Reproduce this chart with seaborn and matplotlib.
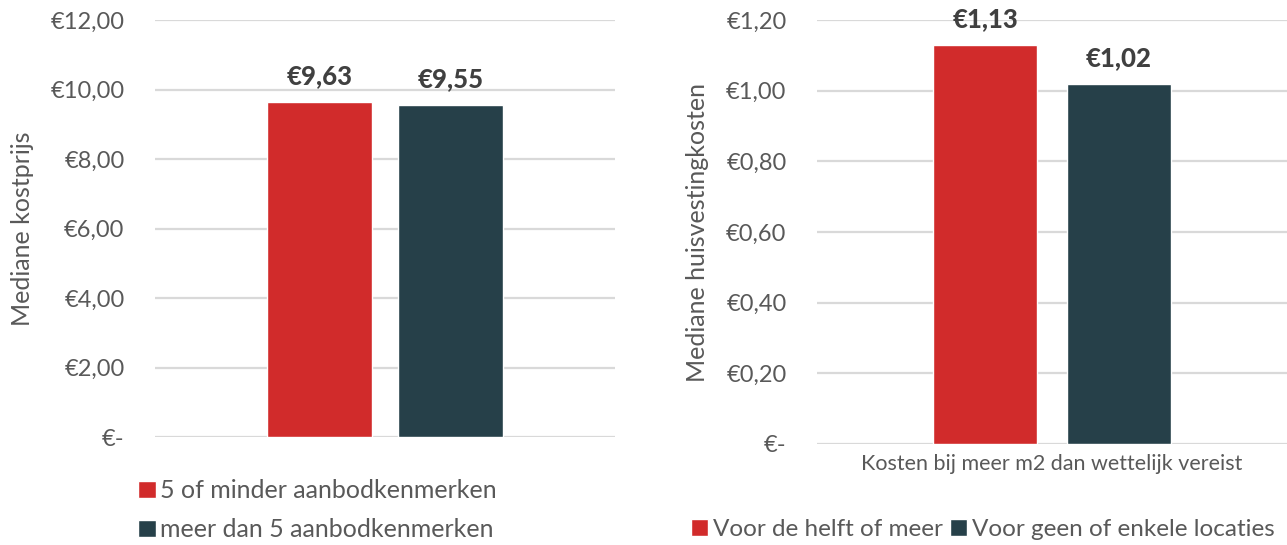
import matplotlib
matplotlib.use("Agg")
import matplotlib.pyplot as plt
from matplotlib.ticker import FuncFormatter, MultipleLocator
import pandas as pd
import seaborn as sns

# %% data
left_series = ["5 of minder aanbodkenmerken", "meer dan 5 aanbodkenmerken"]
left_values = [9.63, 9.55]
left_ylabel = "Mediane kostprijs"

right_category = "Kosten bij meer m2 dan wettelijk vereist"
right_series = ["Voor de helft of meer", "Voor geen of enkele locaties"]
right_values = [1.13, 1.02]
right_ylabel = "Mediane huisvestingkosten"

RED = "#D12B2B"
DARK = "#264049"
GREY = "#595959"
GRID = "#D9D9D9"

sns.set_theme(style="white")
plt.rcParams["font.family"] = ["Lato", "DejaVu Sans"]
plt.rcParams["text.color"] = GREY


def euro(v, pos=None):
    if abs(v) < 1e-9:
        return "€-"
    return "€" + f"{v:.2f}".replace(".", ",")


def style_axis(ax, step, top, ylabel):
    ax.set_ylim(0, top)
    ax.yaxis.set_major_locator(MultipleLocator(step))
    ax.yaxis.set_major_formatter(FuncFormatter(euro))
    ax.grid(axis="y", color=GRID, linewidth=1.6)
    ax.set_axisbelow(True)
    sns.despine(ax=ax, left=True, bottom=True)
    ax.tick_params(axis="both", length=0, colors=GREY)
    ax.tick_params(axis="y", labelsize=17, pad=22)
    ax.set_ylabel(ylabel, fontsize=18, color=GREY, labelpad=12)
    ax.set_xlabel("")
    ax.set_xlim(-0.5, 0.5)


def add_labels(ax):
    for cont in ax.containers:
        ax.bar_label(cont, labels=[euro(v) for v in cont.datavalues], padding=10,
                     fontsize=18.5, fontweight="black", color="#404040")


fig = plt.figure(figsize=(12.87, 5.45), dpi=100)

# %% left chart
df_left = pd.DataFrame({"cat": [""] * 2, "serie": left_series, "waarde": left_values})
ax1 = fig.add_axes([155 / 1287, 1 - 437 / 545, 460 / 1287, 417 / 545])
sns.barplot(data=df_left, x="cat", y="waarde", hue="serie", palette=[RED, DARK],
            width=0.57, gap=0.2, saturation=1, ax=ax1, legend=True)
style_axis(ax1, 2, 12, left_ylabel)
ax1.set_xticklabels([])
add_labels(ax1)
h, l = ax1.get_legend_handles_labels()
ax1.get_legend().remove()
fig.legend(h, l, loc="upper left", bbox_to_anchor=(128 / 1287, 1 - 469 / 545), ncol=1,
           frameon=False, fontsize=18, handlelength=0.7, handleheight=0.7,
           handletextpad=0.2, labelspacing=0.65, borderaxespad=0, labelcolor=GREY)

# %% right chart
df_right = pd.DataFrame({"cat": [right_category] * 2, "serie": right_series, "waarde": right_values})
ax2 = fig.add_axes([817 / 1287, 1 - 444 / 545, 470 / 1287, 424 / 545])
sns.barplot(data=df_right, x="cat", y="waarde", hue="serie", palette=[RED, DARK],
            width=0.57, gap=0.22, saturation=1, ax=ax2, legend=True)
style_axis(ax2, 0.2, 1.2, right_ylabel)
ax2.tick_params(axis="x", labelsize=15.5, pad=7)
add_labels(ax2)
h, l = ax2.get_legend_handles_labels()
ax2.get_legend().remove()
fig.legend(h, l, loc="upper left", bbox_to_anchor=(681 / 1287, 1 - 509 / 545), ncol=2,
           frameon=False, fontsize=17.5, handlelength=0.7, handleheight=0.7,
           handletextpad=0.2, columnspacing=0.3, borderaxespad=0, labelcolor=GREY)

fig.savefig("out.png", dpi=100)
